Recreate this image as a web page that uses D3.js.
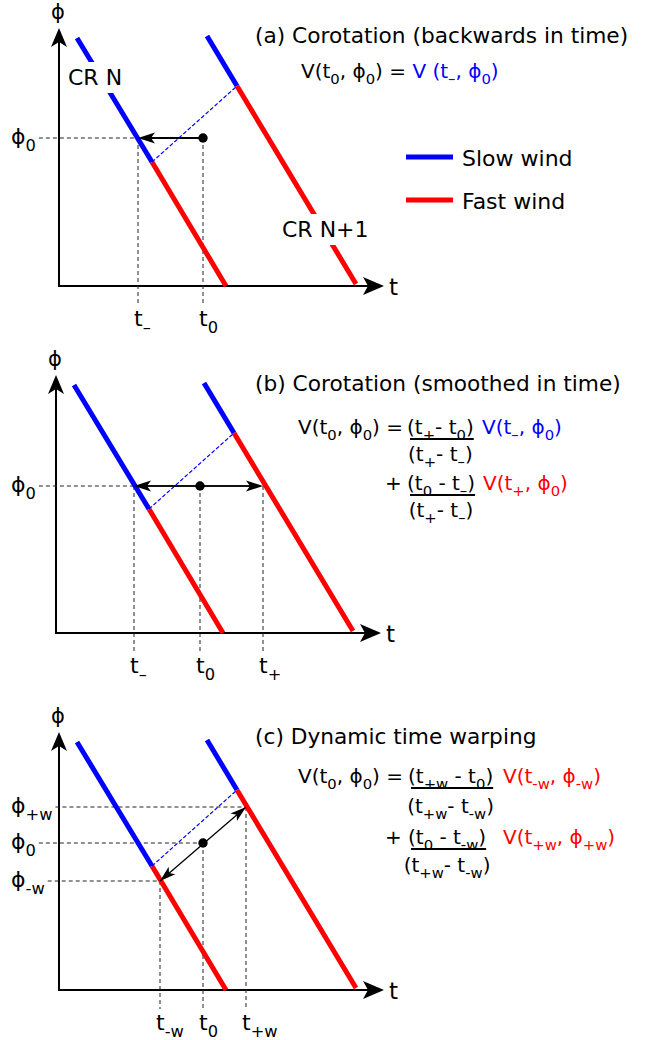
<!DOCTYPE html>
<html><head><meta charset="utf-8">
<script src="https://cdn.jsdelivr.net/npm/d3@7"></script>
<style>
body{margin:0;background:#fff}
svg{display:block}
text{font-family:"DejaVu Sans",Verdana,sans-serif;fill:#000}
</style>
</head><body>
<svg id="chart" width="650" height="1040"></svg>
<script>
// ---------- data (diagram units: t to the right, phi upward, origin at axes corner) ----------
const crN  = [[18,248],[93,124],[167,0]];     // CR N: top, slow/fast boundary, bottom
const crN1 = [[148,250],[178,200],[297,2]];   // CR N+1
const panels = ["a","b","c"];
const titles = ["(a) Corotation (backwards in time)","(b) Corotation (smoothed in time)","(c) Dynamic time warping"];
const phi0Values = [148,147,147];
const t0Values = [144,144,144];
const tMinusValues = [79,78,101];     // t-  / t-w
const tPlusValues = [null,207,187];   // t+  / t+w
const phiWarp = [null,null,[109,183]]; // phi-w, phi+w
const tickLabels = [
  [["t","\u2013"],["t","0"]],
  [["t","\u2013"],["t","0"],["t","+"]],
  [["t","-w"],["t","0"],["t","+w"]]
];
const legendNames = ["Slow wind","Fast wind"];
const legendColors = ["#0000ff","#ff0000"];

// ---------- layout ----------
const origins = [[59,286],[56,633],[59,990]];
const axisLen = [325,258];
const BLUE="#0000ff", RED="#ff0000";
const svg = d3.select("#chart");

function rich(parent, x, y, runs, size, anchor){
  const t = parent.append("text").attr("x",x).attr("y",y).attr("font-size",size);
  if(anchor) t.attr("text-anchor",anchor);
  let shift = 0;
  runs.forEach(r=>{
    const sub = r.sub?1:0;
    const target = sub ? size*0.3 : 0;
    const ts = t.append("tspan").text(r.s).attr("dy", target-shift).attr("font-size", sub? size*0.74 : size);
    shift = target;
    if(r.c) ts.style("fill", r.c);
  });
  return t;
}
function P(s,c){return {s:s,c:c};}
function S(s,c){return {s:s,sub:true,c:c};}

function arrowHead(g, x1,y1,x2,y2,len,half,notch){
  const a = Math.atan2(y2-y1,x2-x1);
  const ux=Math.cos(a), uy=Math.sin(a), px=-uy, py=ux;
  const bx=x2-ux*len, by=y2-uy*len;
  const nx=x2-ux*(len-notch), ny=y2-uy*(len-notch);
  g.append("path").attr("d",`M${x2},${y2}L${bx+px*half},${by+py*half}L${nx},${ny}L${bx-px*half},${by-py*half}Z`).attr("fill","#000");
}

panels.forEach((p,i)=>{
  const [ox,oy] = origins[i];
  const x = d3.scaleLinear().domain([0,axisLen[0]]).range([ox,ox+axisLen[0]]);
  const y = d3.scaleLinear().domain([0,axisLen[1]]).range([oy,oy-axisLen[1]]);
  const g = svg.append("g");

  // axes
  g.append("line").attr("x1",x(0)).attr("y1",y(0)).attr("x2",x(axisLen[0])-12).attr("y2",y(0)).attr("stroke","#000").attr("stroke-width",2);
  g.append("line").attr("x1",x(0)).attr("y1",y(0)+1).attr("x2",x(0)).attr("y2",y(axisLen[1])+12).attr("stroke","#000").attr("stroke-width",2);
  arrowHead(g,x(0),y(0),x(axisLen[0]),y(0),21,9,5);
  arrowHead(g,x(0),y(0),x(0),y(axisLen[1]),19,8,5);
  g.append("text").attr("x",x(0)-1).attr("y",y(0)-267).attr("text-anchor","middle").attr("font-size",21).text("\u03d5");
  g.append("text").attr("x",x(0)+330).attr("y",y(0)+9).attr("font-size",23).text("t");

  const ph0 = phi0Values[i], t0 = t0Values[i], tm = tMinusValues[i], tp = tPlusValues[i];
  const dash = (x1,y1,x2,y2,col,da,w)=>g.append("line").attr("x1",x1).attr("y1",y1).attr("x2",x2).attr("y2",y2)
     .attr("stroke",col||"#222").attr("stroke-width",w||1).attr("stroke-dasharray",da||"4,3");

  // phi labels + horizontal dashed guides
  const hGuides = [];
  if(i<2){ hGuides.push({phi:ph0, sub:"0", to:tm}); }
  else { hGuides.push({phi:phiWarp[i][1], sub:"+w", to:tp}); hGuides.push({phi:ph0, sub:"0", to:t0}); hGuides.push({phi:phiWarp[i][0], sub:"-w", to:tm}); }
  hGuides.forEach(h=>{
    const lab = rich(g, 11, y(h.phi)+6, [P("\u03d5"),S(h.sub)], 22);
    const bb = lab.node().getBBox();
    dash(bb.x+bb.width+3, y(h.phi), x(h.to), y(h.phi));
  });
  // vertical dashed guides + tick labels
  const vt = i===0 ? [[tm, ph0],[t0, ph0]] : i===1 ? [[tm,ph0],[t0,ph0],[tp,ph0]] : [[tm,phiWarp[i][0]],[t0,ph0],[tp,phiWarp[i][1]]];
  vt.forEach((v,k)=>{
    dash(x(v[0]), y(v[1]), x(v[0]), y(0)+19);
    rich(g, x(v[0])-4, y(0)+40, [P(tickLabels[i][k][0]), S(tickLabels[i][k][1])], 22);
  });

  // CR lines
  [crN, crN1].forEach(L=>{
    g.append("line").attr("x1",x(L[0][0])).attr("y1",y(L[0][1])).attr("x2",x(L[1][0])).attr("y2",y(L[1][1])).attr("stroke",BLUE).attr("stroke-width",5);
    g.append("line").attr("x1",x(L[1][0])).attr("y1",y(L[1][1])).attr("x2",x(L[2][0])).attr("y2",y(L[2][1])).attr("stroke",RED).attr("stroke-width",5);
  });
  dash(x(crN[1][0]), y(crN[1][1]), x(crN1[1][0]), y(crN1[1][1]), BLUE, "4,2", 1.2);

  // arrows
  if(i===0){
    g.append("line").attr("x1",x(t0)).attr("y1",y(ph0)).attr("x2",x(tm)+10).attr("y2",y(ph0)).attr("stroke","#000").attr("stroke-width",2);
    arrowHead(g,x(t0),y(ph0),x(tm),y(ph0),17,5.5,4);
  } else if(i===1){
    g.append("line").attr("x1",x(tm)+10).attr("y1",y(ph0)).attr("x2",x(tp)-10).attr("y2",y(ph0)).attr("stroke","#111").attr("stroke-width",2);
    arrowHead(g,x(t0),y(ph0),x(tm),y(ph0),17,5.5,4);
    arrowHead(g,x(t0),y(ph0),x(tp),y(ph0),17,5.5,4);
  } else {
    const pm=[x(tm),y(phiWarp[i][0])], pp=[x(tp),y(phiWarp[i][1])];
    g.append("line").attr("x1",pm[0]).attr("y1",pm[1]).attr("x2",pp[0]).attr("y2",pp[1]).attr("stroke","#000").attr("stroke-width",1.3);
    arrowHead(g,x(t0),y(ph0),pm[0],pm[1],16,5,4);
    arrowHead(g,x(t0),y(ph0),pp[0],pp[1],16,5,4);
  }
  g.append("circle").attr("cx",x(t0)).attr("cy",y(ph0)).attr("r",4.7).attr("fill","#000");

  // CR labels (panel a) with white background
  if(i===0){
    [["CR N",68,85],["CR N+1",282,237]].forEach(c=>{
      const t = g.append("text").attr("x",c[1]).attr("y",c[2]).attr("font-size",22).text(c[0]);
      const bb = t.node().getBBox();
      g.insert("rect", function(){return t.node();}).attr("x",bb.x-2).attr("y",bb.y-3).attr("width",bb.width+4).attr("height",bb.height+6).attr("fill","#fff");
    });
  }

  const titleY = [43,391,744][i];
  g.append("text").attr("x",255).attr("y",titleY).attr("font-size",21.7).text(titles[i]);
});

// ---------- legend ----------
const lg = svg.append("g");
legendNames.forEach((n,k)=>{
  const yy = [157,200][k];
  lg.append("line").attr("x1",406).attr("x2",453).attr("y1",yy).attr("y2",yy).attr("stroke",legendColors[k]).attr("stroke-width",5);
  lg.append("text").attr("x",462).attr("y",yy+9).attr("font-size",22).text(n);
});

// ---------- equations ----------
const EQ = 20;
const DASH = "\u2013";
const lhs = [P("V(t"),S("0"),P(", \u03d5"),S("0"),P(") = ")];
rich(svg, 301, 78, lhs.concat([P("V (t",BLUE),S(DASH,BLUE),P(", \u03d5",BLUE),S("0",BLUE),P(")",BLUE)]), EQ);

function fraction(xs, yb, num, den, gapDen){
  const n = rich(svg, xs, yb, num, EQ);
  const bb = n.node().getBBox();
  const cx = bb.x + bb.width/2;
  svg.append("line").attr("x1",bb.x+3).attr("x2",bb.x+bb.width).attr("y1",yb+5).attr("y2",yb+5).attr("stroke","#000").attr("stroke-width",2);
  rich(svg, cx, yb+gapDen, den, EQ, "middle");
  return bb;
}
// (b)
rich(svg, 298, 434, lhs, EQ);
fraction(407, 434, [P("(t"),S("+"),P("- t"),S("0"),P(")")], [P("(t"),S("+"),P("- t"),S(DASH),P(")")], 27);
rich(svg, 482, 434, [P("V(t",BLUE),S(DASH,BLUE),P(", \u03d5",BLUE),S("0",BLUE),P(")",BLUE)], EQ);
rich(svg, 385, 490, [P("+")], EQ);
fraction(407, 490, [P("(t"),S("0"),P(" - t"),S(DASH),P(")")], [P("(t"),S("+"),P("- t"),S(DASH),P(")")], 27);
rich(svg, 483, 490, [P("V(t",RED),S("+",RED),P(", \u03d5",RED),S("0",RED),P(")",RED)], EQ);
// (c)
rich(svg, 298, 783, lhs, EQ);
fraction(408, 783, [P("(t"),S("+w"),P(" - t"),S("0"),P(")")], [P("(t"),S("+w"),P("- t"),S("-w"),P(")")], 30);
rich(svg, 503, 783, [P("V(t",RED),S("-w",RED),P(", \u03d5",RED),S("-w",RED),P(")",RED)], EQ);
rich(svg, 385, 844, [P("+")], EQ);
fraction(408, 844, [P("(t"),S("0"),P(" - t"),S("-w"),P(")")], [P("(t"),S("+w"),P("- t"),S("-w"),P(")")], 28);
rich(svg, 503, 844, [P("V(t",RED),S("+w",RED),P(", \u03d5",RED),S("+w",RED),P(")",RED)], EQ);
</script>
</body></html>
